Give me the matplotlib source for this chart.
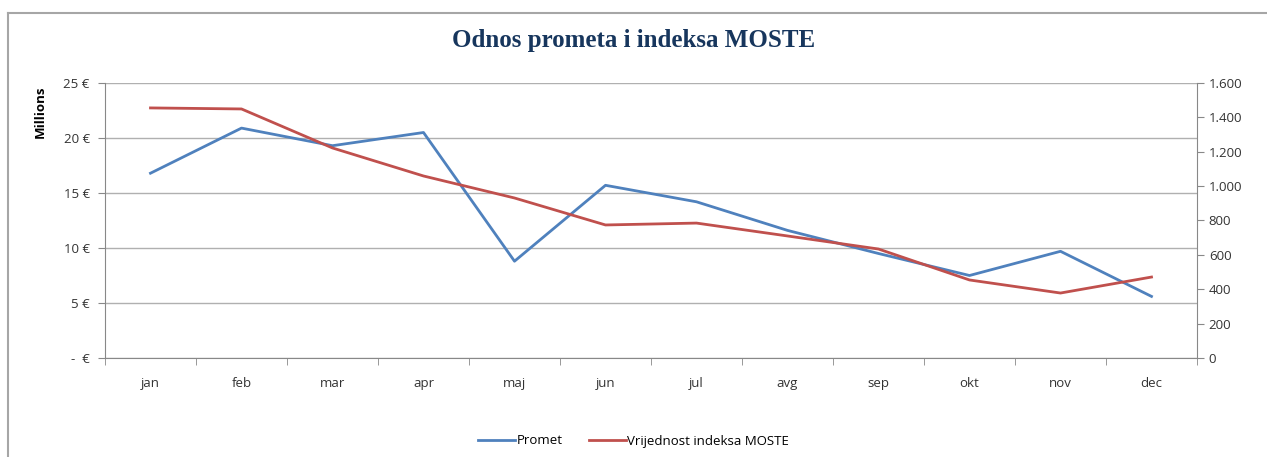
import matplotlib.pyplot as plt
from matplotlib.lines import Line2D
import numpy as np

months = ["jan", "feb", "mar", "apr", "maj", "jun", "jul", "avg", "sep", "okt", "nov", "dec"]
promet = [16.8, 20.9, 19.3, 20.5, 8.8, 15.7, 14.2, 11.6, 9.5, 7.5, 9.7, 5.6]  # millions EUR
moste = [1455, 1449, 1222, 1059, 931, 774, 785, 710, 634, 454, 378, 471]
left_ticks = [0, 5, 10, 15, 20, 25]
left_labels = ["-  €", "5 €", "10 €", "15 €", "20 €", "25 €"]
right_ticks = [0, 200, 400, 600, 800, 1000, 1200, 1400, 1600]
right_labels = ["0", "200", "400", "600", "800", "1.000", "1.200", "1.400", "1.600"]

plt.rcParams['font.family'] = ['Open Sans', 'DejaVu Sans']
W, H = 1267, 457
fig = plt.figure(figsize=(W / 100, H / 100), dpi=100)

# outer chart frame (top and left edges visible)
fig.add_artist(Line2D([8 / W, 8 / W], [0, 1 - 13 / H], color="#a6a6a6", lw=1.5))
fig.add_artist(Line2D([8 / W, 1], [1 - 13 / H, 1 - 13 / H], color="#a6a6a6", lw=1.5))

ax = fig.add_axes([105 / W, 99 / H, 1092 / W, 275 / H])
x = np.arange(len(months))
blue = "#4F81BD"
red = "#C0504D"
gray = "#888888"

ax.plot(x, promet, color=blue, lw=2.0, label="Promet", zorder=3)
ax.set_xlim(-0.5, len(months) - 0.5)
ax.set_ylim(0, 25)
ax.set_yticks(left_ticks)
ax.set_yticklabels(left_labels)
ax.grid(axis="y", color="#b0b0b0", lw=1)
ax.set_axisbelow(True)
ax.set_xticks(x)
ax.set_xticklabels(months)
ax.set_xticks(np.arange(-0.5, len(months)), minor=True)
ax.tick_params(axis="x", which="major", length=0, pad=14, labelsize=9.5, labelcolor="#333333")
ax.tick_params(axis="x", which="minor", length=5, color=gray, direction="out")
ax.tick_params(axis="y", length=5, color=gray, labelsize=9.5, labelcolor="#333333", pad=6)
for s in ["top", "right"]:
    ax.spines[s].set_visible(False)
for s in ["left", "bottom"]:
    ax.spines[s].set_color(gray)
ax.set_ylabel("Millions", fontsize=9.5, fontweight="bold")
ax.yaxis.set_label_coords(-0.053, 0.895)

ax2 = ax.twinx()
ax2.plot(x, moste, color=red, lw=2.0, label="Vrijednost indeksa MOSTE", zorder=3)
ax2.set_ylim(0, 1600)
ax2.set_yticks(right_ticks)
ax2.set_yticklabels(right_labels)
ax2.tick_params(axis="y", length=5, color=gray, labelsize=9.5, labelcolor="#333333")
for s in ["top", "left", "bottom"]:
    ax2.spines[s].set_visible(False)
ax2.spines["right"].set_color(gray)

fig.suptitle("Odnos prometa i indeksa MOSTE", x=0.5, y=1 - 40 / H, va="center",
             fontsize=18, fontweight="bold", color="#17365D", family="Liberation Serif")

handles = [Line2D([], [], color=blue, lw=2.0), Line2D([], [], color=red, lw=2.0)]
fig.legend(handles, ["Promet", "Vrijednost indeksa MOSTE"], loc="center",
           bbox_to_anchor=(0.5, 1 - 441 / H), ncol=2, frameon=False, fontsize=9.5,
           handlelength=2.8, handletextpad=0.1, columnspacing=2.0)

fig.savefig("out.png", dpi=100)
